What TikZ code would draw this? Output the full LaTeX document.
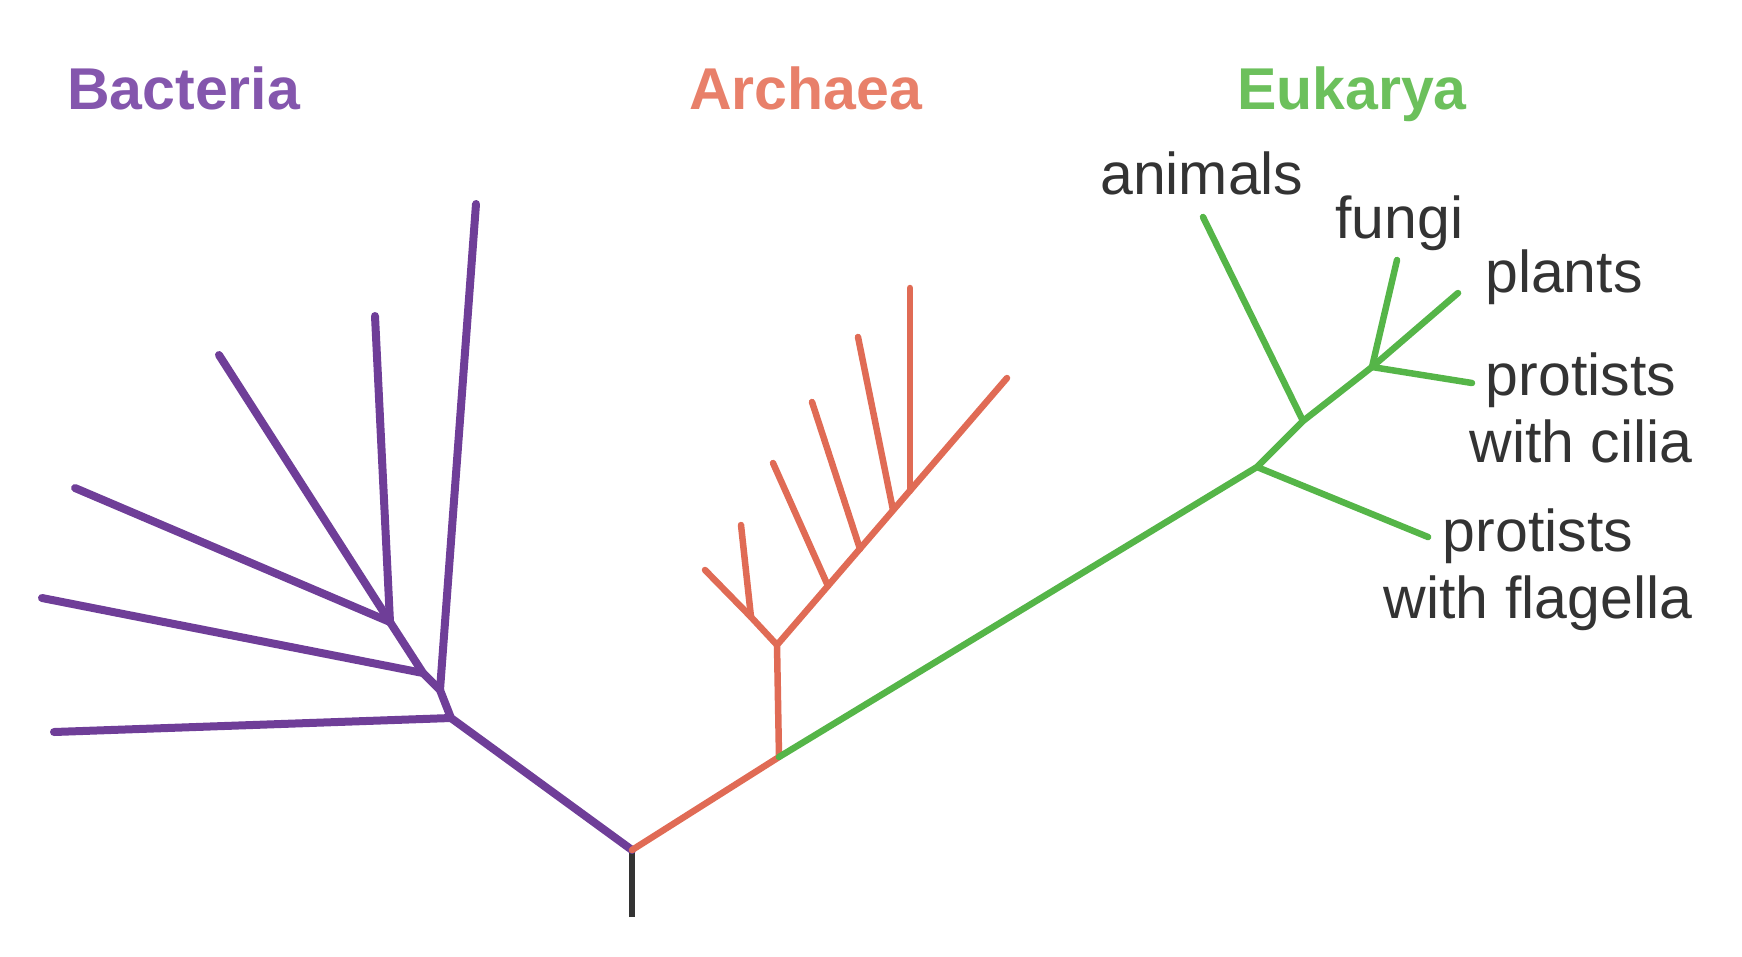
\documentclass[tikz,border=0pt]{standalone}
\usepackage{fontspec}
\setmainfont{Liberation Sans}
\definecolor{bactline}{HTML}{6F3E98}
\definecolor{bacttext}{HTML}{8456AD}
\definecolor{archline}{HTML}{E06B55}
\definecolor{archtext}{HTML}{E8806A}
\definecolor{eukline}{HTML}{55B548}
\definecolor{euktext}{HTML}{6CC05C}
\definecolor{labtext}{HTML}{333333}
\definecolor{stemcol}{HTML}{333333}
\begin{document}
\begin{tikzpicture}[x=1pt,y=-1pt,
  bigfont/.style={font=\fontsize{59}{66.7}\selectfont},
  domtitle/.style={bigfont,inner sep=0pt,anchor=base west},
  grp/.style={bigfont,inner sep=0pt,text=labtext},
  bact/.style={draw=bactline,line width=8pt,line cap=round,line join=round},
  arch/.style={draw=archline,line width=6.5pt,line cap=round,line join=round},
  euk/.style={draw=eukline,line width=6.5pt,line cap=round,line join=round},
  stemline/.style={draw=stemcol,line width=6pt}]
\useasboundingbox (0,0) rectangle (1742,956);

% titles
\node[domtitle,text=bacttext] (tbac) at (67,109) {\bfseries Bacteria};
\node[domtitle,text=archtext] (tarc) at (689,109) {\bfseries Archaea};
\node[domtitle,text=euktext] (teuk) at (1237,109) {\bfseries Eukarya};

% labels
\node[grp,anchor=base west] (lanim) at (1100,194) {animals};
\node[grp,anchor=base west] (lfung) at (1335,238) {fungi};
\node[grp,anchor=base west] (lplan) at (1485,292) {plants};
\node[grp,anchor=base,align=center] (lcil) at (1581,462) {protists\\with cilia};
\node[grp,anchor=base,align=center] (lflag) at (1538,618) {protists\\with flagella};

% root
\coordinate (s0) at (632,917);
\coordinate (r) at (632,850);
% bacteria
\coordinate (p1) at (451,718);
\coordinate (p2) at (440,690);
\coordinate (p3) at (423,673);
\coordinate (p4) at (390,622);
\coordinate (b1) at (54,732);
\coordinate (b2) at (476,204);
\coordinate (b3) at (42,598);
\coordinate (b4) at (75,488);
\coordinate (b5) at (219,355);
\coordinate (b6) at (375,316);
% archaea
\coordinate (a0) at (779,757);
\coordinate (a1) at (777,645);
\coordinate (at) at (1007,378);
\coordinate (al) at (705,570);
\coordinate (a2) at (751,617);
\coordinate (a2t) at (741,525);
\coordinate (c1) at (828,586);
\coordinate (c1t) at (773,463);
\coordinate (c2) at (860,549);
\coordinate (c2t) at (812,402);
\coordinate (c3) at (893,510);
\coordinate (c3t) at (858,337);
\coordinate (c4) at (910,491);
\coordinate (c4t) at (910,288);
% eukarya
\coordinate (g1) at (1257,467);
\coordinate (g2) at (1303,421);
\coordinate (g3) at (1372,367);
\coordinate (gfl) at (1428,537);
\coordinate (gan) at (1203,217);
\coordinate (gfu) at (1397,260);
\coordinate (gpl) at (1458,293);
\coordinate (gci) at (1472,383);

% stem
\draw[stemline] (s0) -- (r);
% bacteria
\draw[bact] (r) -- (p1) -- (p2) -- (p3) -- (p4);
\draw[bact] (p1) -- (b1);
\draw[bact] (p2) -- (b2);
\draw[bact] (p3) -- (b3);
\draw[bact] (p4) -- (b4);
\draw[bact] (p4) -- (b5);
\draw[bact] (p4) -- (b6);
% archaea
\draw[arch] (r) -- (a0) -- (a1) -- (at);
\draw[arch] (a1) -- (a2) -- (al);
\draw[arch] (a2) -- (a2t);
\draw[arch] (c1) -- (c1t);
\draw[arch] (c2) -- (c2t);
\draw[arch] (c3) -- (c3t);
\draw[arch] (c4) -- (c4t);
% eukarya
\draw[euk] (a0) -- (g1) -- (g2) -- (g3);
\draw[euk] (g1) -- (gfl);
\draw[euk] (g2) -- (gan);
\draw[euk] (g3) -- (gfu);
\draw[euk] (g3) -- (gpl);
\draw[euk] (g3) -- (gci);
\end{tikzpicture}
\end{document}
